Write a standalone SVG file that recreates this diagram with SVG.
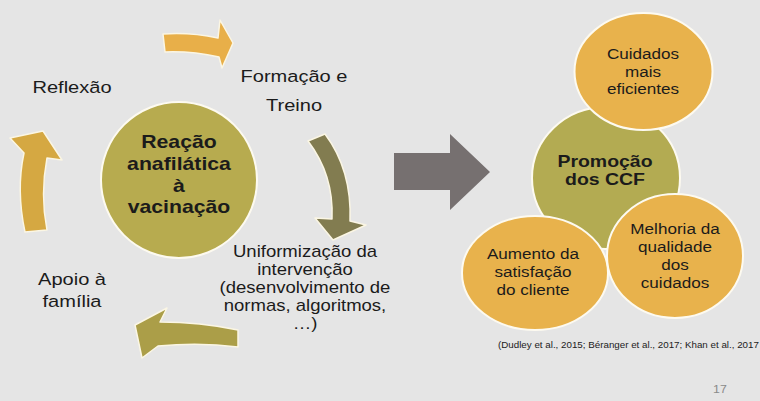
<svg xmlns="http://www.w3.org/2000/svg" width="760" height="401" viewBox="0 0 760 401">
<style>
.t{font-family:"Liberation Sans",Arial,sans-serif;fill:#1b1b1b;text-anchor:middle}
.b{font-weight:bold}
.arr{stroke:#fbf6e4;stroke-width:1.5;stroke-linejoin:round}
.node{stroke:#fdfaf0;stroke-width:2}
</style>
<rect width="760" height="401" fill="#e5e5e5"/>
<g id="connectors">
  <path class="arr" fill="#e8af49" d="M163,34 Q190,32 218,38 L220,20 L233,43 L222,68 L219,57 Q192,51 165,52 Z"/>
  <path class="arr" fill="#827c50" d="M308,141 L325,134 Q352,170 350,221 L366,225 L333,240 L315,218 L332,219 Q334,175 308,141 Z"/>
  <path class="arr" fill="#ab9e48" d="M238,330 L238,347 Q200,342 158,346 L142,358 L135,325 L167,308 L160,322 Q200,322 238,330 Z"/>
  <path class="arr" fill="#d5a842" d="M25,232 Q16,190 24,153 L10,138 L43,131 L62,160 L47,158 Q40,195 47,230 Z"/>
  <path fill="#767070" d="M394,153 L450,153 L450,134 L490,172 L450,210 L450,190 L394,190 Z"/>
</g>
<g id="center">
  <circle class="node" cx="179" cy="180" r="78" fill="#b7ab4f"/>
  <text class="t b" font-size="18" transform="translate(179,0) scale(1.18,1)"><tspan x="0" y="148">Reação</tspan><tspan x="0" y="170">anafilática</tspan><tspan x="0" y="192">à</tspan><tspan x="0" y="213">vacinação</tspan></text>
</g>
<g id="reflexao"><text class="t" font-size="17" transform="translate(72,0) scale(1.18,1)" x="0" y="93">Reflexão</text></g>
<g id="formacao"><text class="t" font-size="17" transform="translate(294,0) scale(1.18,1)"><tspan x="0" y="82">Formação e</tspan><tspan x="0" y="111">Treino</tspan></text></g>
<g id="uniformizacao"><text class="t" font-size="15.7" transform="translate(305,0) scale(1.18,1)"><tspan x="0" y="257">Uniformização da</tspan><tspan x="0" y="275">intervenção</tspan><tspan x="0" y="293">(desenvolvimento de</tspan><tspan x="0" y="311">normas, algoritmos,</tspan><tspan x="0" y="329">…)</tspan></text></g>
<g id="apoio"><text class="t" font-size="17" transform="translate(72,0) scale(1.18,1)"><tspan x="0" y="285">Apoio à</tspan><tspan x="0" y="307">família</tspan></text></g>
<g id="promocao">
  <ellipse class="node" cx="606" cy="178" rx="74" ry="71" fill="#b3ab52"/>
  <text class="t b" font-size="16.5" transform="translate(605,0) scale(1.18,1)"><tspan x="0" y="167">Promoção</tspan><tspan x="0" y="185">dos CCF</tspan></text>
</g>
<g id="cuidados">
  <ellipse class="node" cx="643.5" cy="71.5" rx="69" ry="58.5" fill="#e8b24c"/>
  <text class="t" font-size="14.5" transform="translate(643,0) scale(1.18,1)"><tspan x="0" y="59">Cuidados</tspan><tspan x="0" y="77">mais</tspan><tspan x="0" y="94">eficientes</tspan></text>
</g>
<g id="aumento">
  <ellipse class="node" cx="535" cy="273" rx="73" ry="57" fill="#e8b24c"/>
  <text class="t" font-size="14.5" transform="translate(533,0) scale(1.18,1)"><tspan x="0" y="259">Aumento da</tspan><tspan x="0" y="277">satisfação</tspan><tspan x="0" y="295">do cliente</tspan></text>
</g>
<g id="melhoria">
  <ellipse class="node" cx="675" cy="256" rx="68" ry="62" fill="#e8b24c"/>
  <text class="t" font-size="14.5" transform="translate(675,0) scale(1.18,1)"><tspan x="0" y="234">Melhoria da</tspan><tspan x="0" y="252">qualidade</tspan><tspan x="0" y="270">dos</tspan><tspan x="0" y="288">cuidados</tspan></text>
</g>
<text class="t" font-size="8.3" transform="translate(498,0) scale(1.18,1)" x="0" y="348" style="text-anchor:start">(Dudley et al., 2015; Béranger et al., 2017; Khan et al., 2017</text>
<text class="t" font-size="10.5" transform="translate(720,0) scale(1.18,1)" x="0" y="393" style="fill:#8a8a8a">17</text>
</svg>
